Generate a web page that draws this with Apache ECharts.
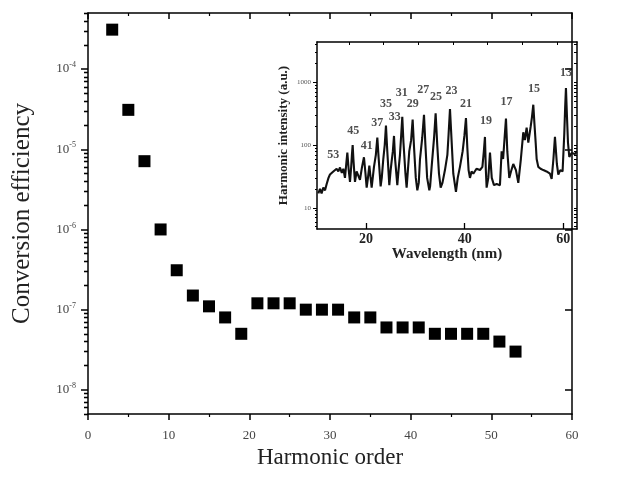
<!DOCTYPE html>
<html>
<head>
<meta charset="utf-8">
<script src="https://cdn.jsdelivr.net/npm/echarts@6/dist/echarts.min.js"></script>
<style>
html,body{margin:0;padding:0;background:#fff;}
#chart{width:643px;height:477px;}
</style>
</head>
<body>
<div id="chart"></div>
<script>
// ---- Main chart data ----
const harmonicOrders = [3,5,7,9,11,13,15,17,19,21,23,25,27,29,31,33,35,37,39,41,43,45,47,49,51,53];
const conversionEfficiency = [3.1e-4,3.1e-5,7.1e-6,1.0e-6,3.1e-7,1.5e-7,1.1e-7,8.0e-8,5.0e-8,1.2e-7,1.2e-7,1.2e-7,1.0e-7,1.0e-7,1.0e-7,8.0e-8,8.0e-8,6.0e-8,6.0e-8,6.0e-8,5.0e-8,5.0e-8,5.0e-8,5.0e-8,4.0e-8,3.0e-8];
const mainYTicks = [1e-8,1e-7,1e-6,1e-5,1e-4];
const mainXRange = [0, 60];
const mainYRange = [5e-9, 5e-4];

// ---- Inset spectrum data: [wavelength (nm), intensity (a.u.)] ----
const spectrumPoints = [
  [10.34,17],[10.68,20],[11.0,17],[11.35,21],[11.7,19],[12.03,24],[12.4,30],[12.7,34],[13.0,32],[13.38,38],
  [13.7,36],[14.05,42],[14.4,38],[14.73,44],[15.1,36],[15.41,42],[15.74,30],[16.0,50],[16.22,76],[16.5,40],
  [16.76,26],[17.0,45],[17.15,70],[17.3,100],[17.45,60],[17.6,40],[17.77,26],[18.1,38],[18.45,40],[18.78,28],
  [19.2,45],[19.59,64],[19.9,35],[20.14,21],[20.4,30],[20.68,47],[20.9,32],[21.15,21],[21.62,45],[22.0,70],
  [22.3,132],[22.55,65],[22.97,22],[23.2,30],[23.51,60],[23.8,100],[24.05,205],[24.3,85],[24.73,23],[25.0,40],
  [25.2,55],[25.45,80],[25.68,140],[25.9,60],[26.35,23],[26.6,40],[26.89,70],[27.1,130],[27.36,283],[27.6,110],
  [28.0,35],[28.24,21],[28.5,40],[28.78,80],[29.15,120],[29.46,255],[29.75,90],[30.1,30],[30.41,19],[30.7,25],
  [30.95,60],[31.4,130],[31.76,305],[32.05,100],[32.4,30],[32.84,19],[33.0,22],[33.31,45],[33.8,130],[34.12,320],
  [34.45,100],[34.8,35],[35.14,21],[35.5,25],[36.01,40],[36.5,70],[36.75,150],[37.03,375],[37.35,120],[37.7,35],
  [38.24,18],[38.6,30],[39.05,45],[39.6,80],[39.95,140],[40.27,270],[40.55,90],[40.8,40],[41.08,30],[41.4,38],
  [41.76,35],[42.4,42],[43.11,40],[43.6,45],[43.9,80],[44.12,135],[44.3,40],[44.46,21],[44.8,30],[45.14,76],
  [45.5,30],[45.95,23],[46.5,24],[47.16,23],[47.5,80],[47.8,60],[48.1,130],[48.38,265],[48.65,80],[49.05,30],
  [49.4,38],[49.86,50],[50.4,40],[50.88,25],[51.4,60],[51.89,160],[52.2,120],[52.57,190],[52.91,110],[53.4,200],
  [53.65,280],[53.92,440],[54.15,220],[54.4,110],[54.6,60],[54.93,45],[55.4,42],[55.95,40],[56.6,38],[57.3,35],
  [57.64,29],[58.0,60],[58.31,135],[58.7,50],[58.99,34],[59.4,40],[59.86,38],[60.2,150],[60.38,400],[60.54,810],
  [60.75,280],[60.95,110],[61.22,65],[61.69,75],[62.0,70],[62.36,72],[62.7,78]
];
const peakOrders = ['53','45','41','37','35','33','31','29','27','25','23','21','19','17','15','13'];
const peakLabelWavelength = [13.38,17.43,20.14,22.30,24.05,25.81,27.23,29.46,31.62,34.19,37.36,40.27,44.32,48.51,54.05,60.54];
const peakLabelIntensity = [70,169,98,222,462,283,667,462,755,590,718,451,245,480,783,1426];
const insetXTicks = [20,40,60];
const insetTopTicks = [16.57,23.43,30.5,37.6,44.6,51.7,58.8];
const insetYTicks = [10,100,1000];
const insetXRange = [10.07, 62.78];
const insetYRange = [4.6, 4400];

// log minor tick helper
function logMinors(lo, hi) {
  const out = [];
  for (let e = Math.floor(Math.log10(lo)); e <= Math.ceil(Math.log10(hi)); e++) {
    for (let m = 2; m <= 9; m++) {
      const v = m * Math.pow(10, e);
      if (v >= lo && v <= hi) out.push(v);
    }
  }
  return out;
}
const mainYMinor = logMinors(mainYRange[0], mainYRange[1]);
const insetYMinor = logMinors(insetYRange[0], insetYRange[1]);

const SERIF = '"Liberation Serif", "Times New Roman", serif';
const lineStyle = { color: '#000', width: 1.5 };

const chart = echarts.init(document.getElementById('chart'), null, { renderer: 'canvas' });

function logAxis(opts) {
  return Object.assign({
    type: 'log', logBase: 10,
    splitLine: { show: false },
    axisLine: { show: false, lineStyle: lineStyle },
    axisTick: { show: false },
    axisLabel: { show: false }
  }, opts);
}

const option = {
  backgroundColor: '#fff',
  animation: false,
  grid: [
    { left: 88, top: 13, right: 71, bottom: 63 },
    { left: 317, top: 42, right: 66, bottom: 248 }
  ],
  xAxis: [
    {
      gridIndex: 0, type: 'value', position: 'bottom',
      min: mainXRange[0], max: mainXRange[1], interval: 10,
      splitLine: { show: false },
      axisLine: { show: true, onZero: false, lineStyle: lineStyle },
      axisTick: { show: true, inside: false, length: 6, lineStyle: { color: '#000', width: 1.5 } },
      minorTick: { show: true, splitNumber: 2, length: 3, lineStyle: { color: '#000', width: 1.2 } },
      axisLabel: { fontFamily: SERIF, fontSize: 13, color: '#444', margin: 15 },
      name: 'Harmonic order', nameLocation: 'middle', nameGap: 30,
      nameTextStyle: { fontFamily: SERIF, fontSize: 23, color: '#222' }
    },
    {
      gridIndex: 0, type: 'value', position: 'top',
      min: mainXRange[0], max: mainXRange[1], interval: 10,
      splitLine: { show: false },
      axisLine: { show: true, onZero: false, lineStyle: lineStyle },
      axisTick: { show: true, inside: true, length: 6, lineStyle: { color: '#000', width: 1.5 } },
      minorTick: { show: true, splitNumber: 2, length: 3, lineStyle: { color: '#000', width: 1.2 } },
      axisLabel: { show: false }
    },
    {
      gridIndex: 1, type: 'value', position: 'bottom',
      min: insetXRange[0], max: insetXRange[1],
      splitLine: { show: false },
      axisLine: { show: true, onZero: false, lineStyle: lineStyle },
      axisTick: { show: true, inside: true, length: 6, customValues: insetXTicks, lineStyle: { color: '#000', width: 1.3 } },
      axisLabel: { customValues: insetXTicks, fontFamily: SERIF, fontWeight: 'bold', fontSize: 14, color: '#222', margin: 3 },
      name: 'Wavelength (nm)', nameLocation: 'middle', nameGap: 8,
      nameTextStyle: { fontFamily: SERIF, fontWeight: 'bold', fontSize: 15, color: '#222' }
    },
    {
      gridIndex: 1, type: 'value', position: 'top',
      min: insetXRange[0], max: insetXRange[1],
      splitLine: { show: false },
      axisLine: { show: true, onZero: false, lineStyle: lineStyle },
      axisTick: { show: true, inside: true, length: 3, customValues: insetTopTicks, lineStyle: { color: '#000', width: 1 } },
      axisLabel: { show: false }
    }
  ],
  yAxis: [
    logAxis({
      gridIndex: 0, position: 'left', min: mainYRange[0], max: mainYRange[1],
      axisLine: { show: true, onZero: false, lineStyle: lineStyle },
      axisTick: { show: true, inside: false, length: 7, customValues: mainYTicks, lineStyle: { color: '#000', width: 1.5 } },
      axisLabel: {
        show: true, customValues: mainYTicks, margin: 12,
        formatter: function (v) { return '{b|10}{s|' + Math.round(Math.log10(v)) + '}'; },
        rich: {
          b: { fontFamily: SERIF, fontSize: 13, color: '#444', lineHeight: 16 },
          s: { fontFamily: SERIF, fontSize: 8, color: '#444', verticalAlign: 'top', lineHeight: 9 }
        }
      },
      name: 'Conversion efficiency', nameLocation: 'middle', nameGap: 53,
      nameTextStyle: { fontFamily: SERIF, fontSize: 25, color: '#222' }
    }),
    logAxis({
      gridIndex: 0, position: 'left', min: mainYRange[0], max: mainYRange[1],
      axisTick: { show: true, inside: false, length: 4, customValues: mainYMinor, lineStyle: { color: '#000', width: 1.3 } }
    }),
    logAxis({
      gridIndex: 0, position: 'right', min: mainYRange[0], max: mainYRange[1],
      axisLine: { show: true, onZero: false, lineStyle: lineStyle },
      axisTick: { show: true, inside: true, length: 7, customValues: mainYTicks, lineStyle: { color: '#000', width: 1.5 } }
    }),
    logAxis({
      gridIndex: 0, position: 'right', min: mainYRange[0], max: mainYRange[1],
      axisTick: { show: true, inside: true, length: 4, customValues: mainYMinor, lineStyle: { color: '#000', width: 1.3 } }
    }),
    logAxis({
      gridIndex: 1, position: 'left', min: insetYRange[0], max: insetYRange[1],
      axisLine: { show: true, onZero: false, lineStyle: lineStyle },
      axisTick: { show: true, inside: false, length: 4, customValues: insetYTicks, lineStyle: { color: '#000', width: 1 } },
      axisLabel: {
        show: true, customValues: insetYTicks, margin: 6, fontFamily: SERIF, fontSize: 7, color: '#555',
        formatter: function (v) { return String(Math.round(v)); }
      },
      name: 'Harmonic intensity (a.u.)', nameLocation: 'middle', nameGap: 27,
      nameTextStyle: { fontFamily: SERIF, fontWeight: 'bold', fontSize: 13, color: '#222' }
    }),
    logAxis({
      gridIndex: 1, position: 'left', min: insetYRange[0], max: insetYRange[1],
      axisTick: { show: true, inside: false, length: 2, customValues: insetYMinor, lineStyle: { color: '#000', width: 1 } }
    }),
    logAxis({
      gridIndex: 1, position: 'right', min: insetYRange[0], max: insetYRange[1],
      axisLine: { show: true, onZero: false, lineStyle: lineStyle },
      axisTick: { show: true, inside: true, length: 3, customValues: insetYTicks.concat(insetYMinor), lineStyle: { color: '#000', width: 1 } }
    })
  ],
  series: [
    {
      type: 'scatter', xAxisIndex: 0, yAxisIndex: 0,
      symbol: 'rect', symbolSize: 12,
      itemStyle: { color: '#000', opacity: 1 },
      data: harmonicOrders.map((h, i) => [h, conversionEfficiency[i]])
    },
    {
      type: 'line', xAxisIndex: 2, yAxisIndex: 4,
      showSymbol: false, symbol: 'none',
      lineStyle: { color: '#111', width: 2.1 },
      data: spectrumPoints
    },
    {
      type: 'scatter', xAxisIndex: 2, yAxisIndex: 4,
      symbolSize: 0, silent: true,
      label: {
        show: true, position: 'inside',
        formatter: function (p) { return p.name; },
        fontFamily: SERIF, fontWeight: 'bold', fontSize: 12, color: '#222'
      },
      data: peakOrders.map((o, i) => ({ name: o, value: [peakLabelWavelength[i], peakLabelIntensity[i]] }))
    }
  ]
};
chart.setOption(option);
</script>
</body>
</html>
